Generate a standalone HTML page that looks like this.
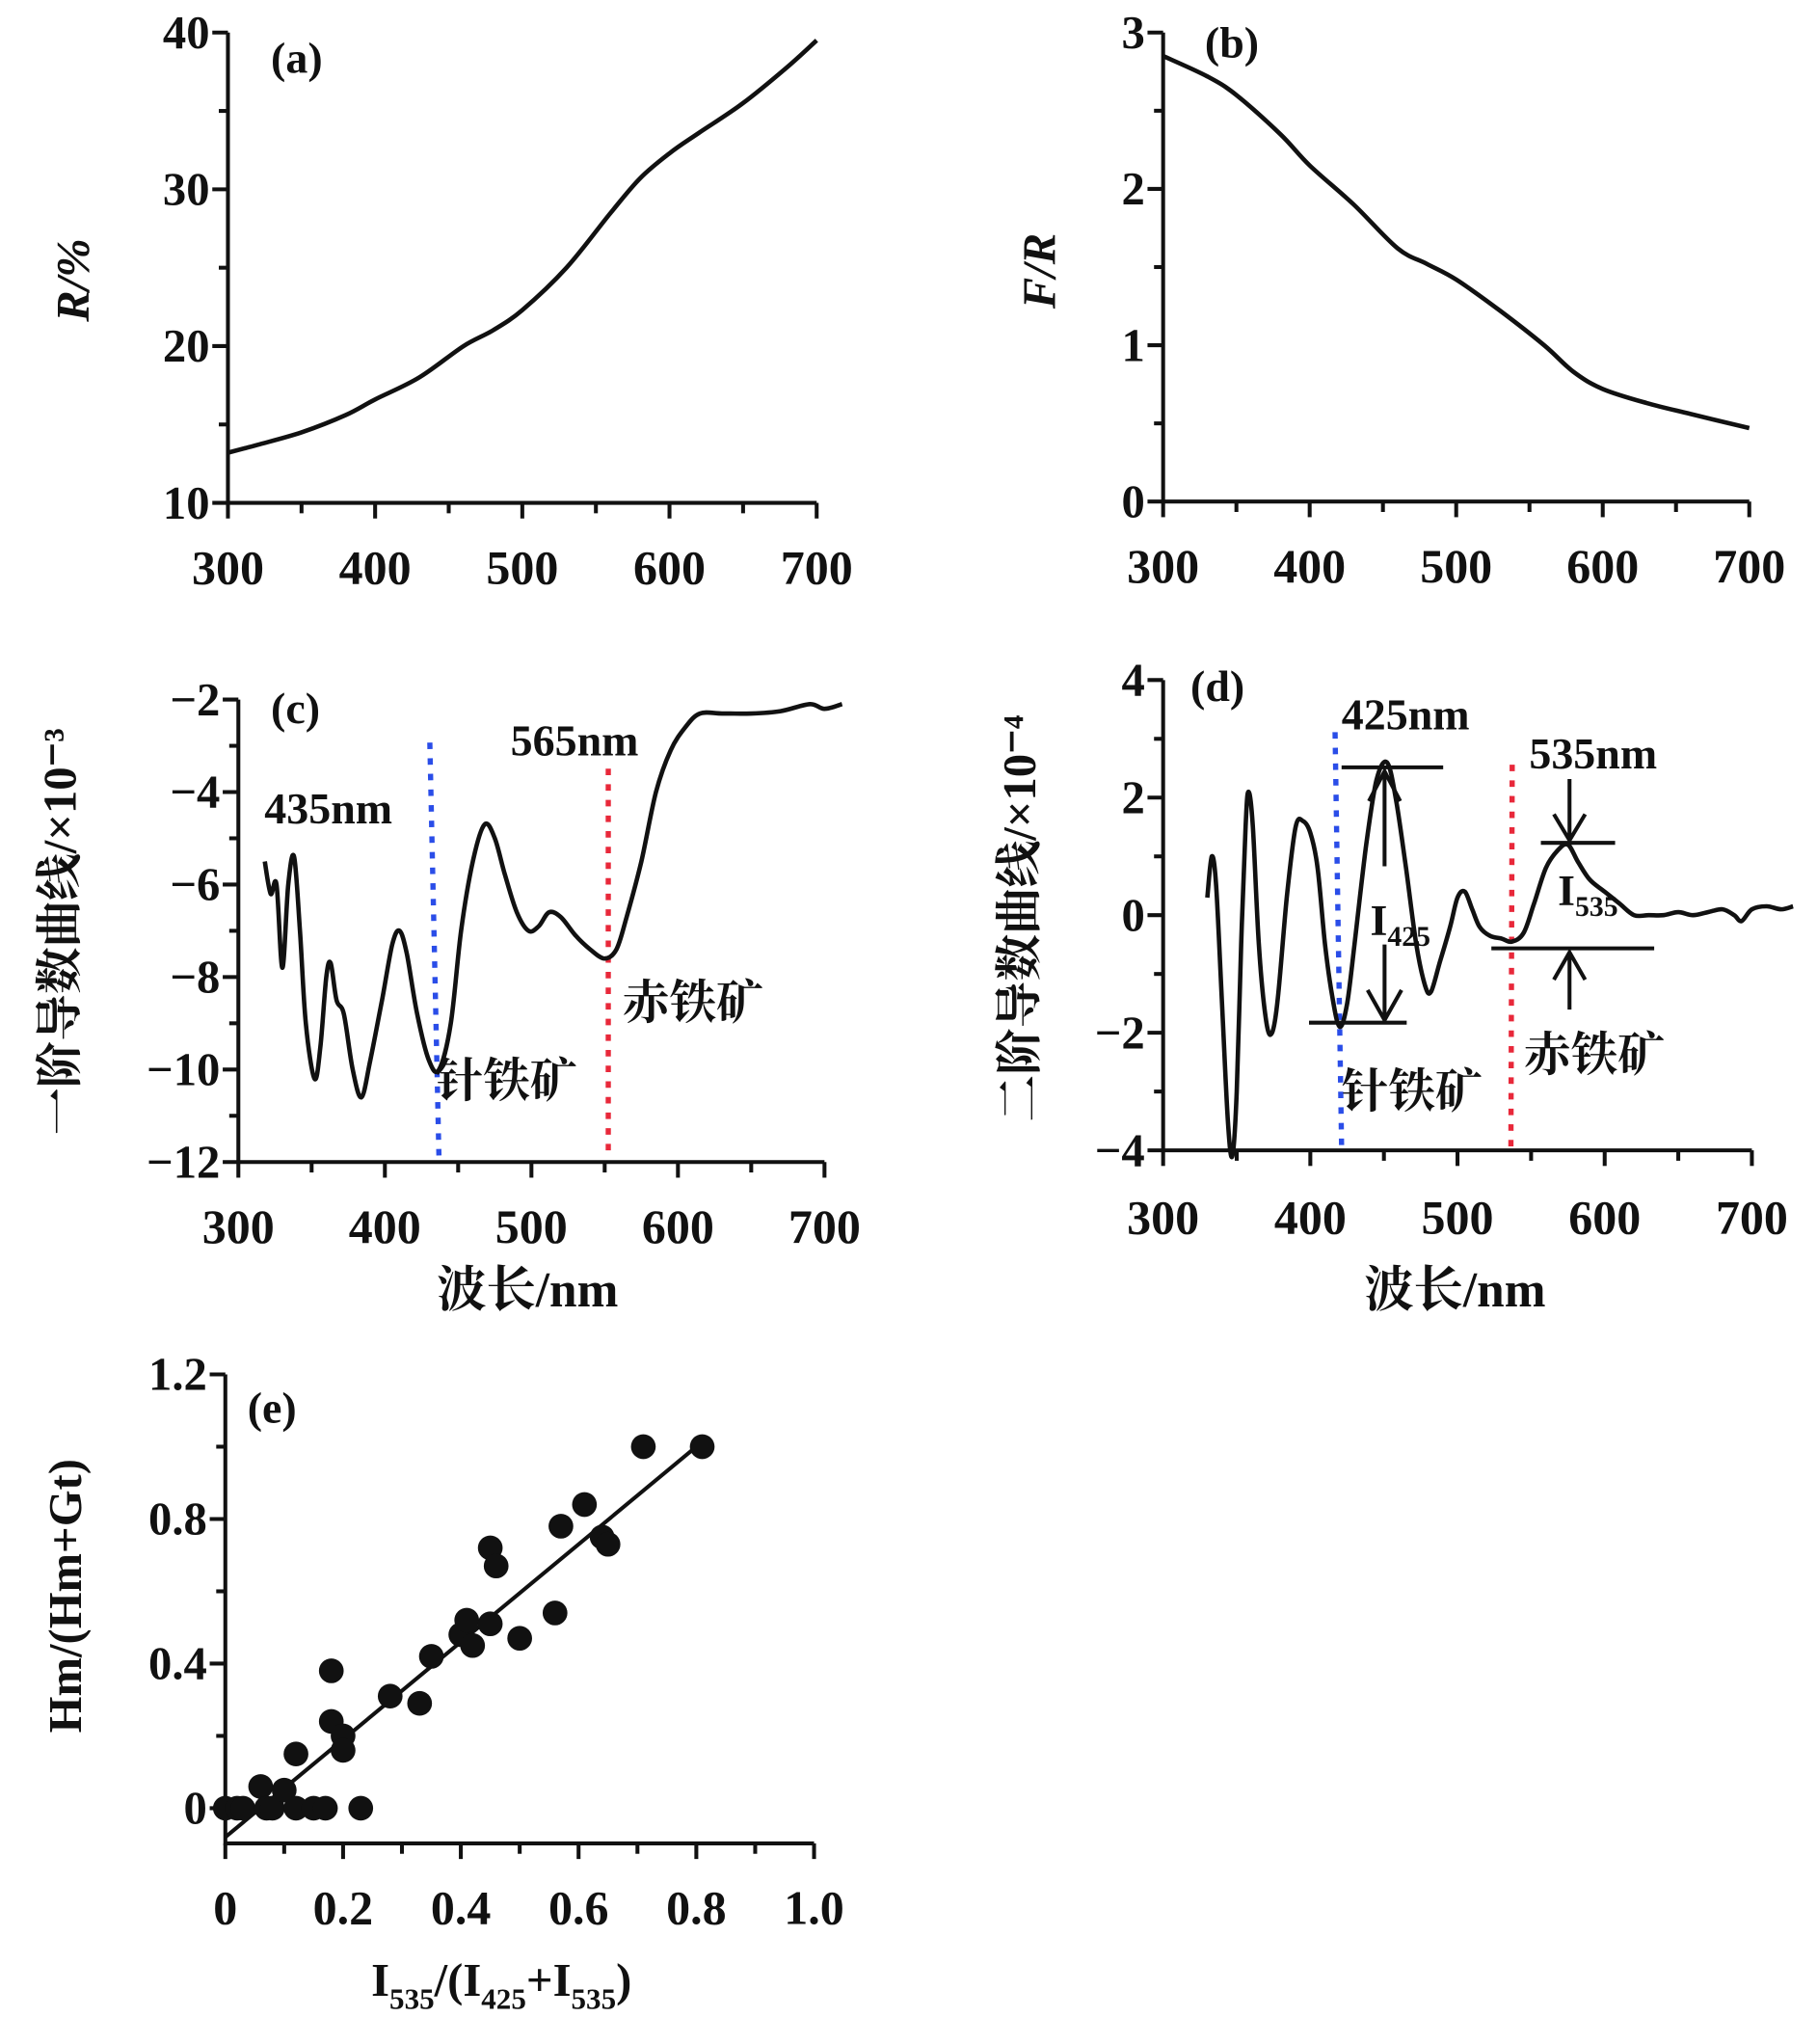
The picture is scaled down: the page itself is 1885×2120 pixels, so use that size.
<!DOCTYPE html>
<html><head><meta charset="utf-8"><style>
html,body{margin:0;padding:0;background:#fff;}
svg{display:block;}
text{font-family:"Liberation Serif","Noto Serif CJK SC",serif;font-weight:bold;fill:#111;}
.cjk{font-family:"Liberation Serif","Noto Serif CJK SC","Noto Sans CJK SC",serif;}
</style></head><body>
<svg id="fig" width="1885" height="2120" viewBox="0 0 1395 1569" preserveAspectRatio="none" xmlns="http://www.w3.org/2000/svg"></svg>
<script>
// ---- data ----
const aX=[300,320,350,380,400,430,460,480,500,530,560,580,600,620,650,680,700];
const aY=[13.2,13.7,14.5,15.6,16.6,18,20,21,22.3,25,28.5,30.7,32.3,33.6,35.5,37.8,39.5];
const bX=[300,330,350,380,400,430,460,480,500,530,560,580,600,630,660,700];
const bY=[2.85,2.72,2.6,2.35,2.15,1.9,1.62,1.52,1.42,1.22,1.0,0.83,0.72,0.63,0.56,0.47];
const cX=[318,322,326,330,334,338,342,346,352,356,360,363,367,372,378,384,390,398,405,410,415,422,430,437,445,452,460,468,475,482,490,498,505,512,520,530,540,550,558,565,575,585,595,605,615,630,650,670,690,700,712];
const cY=[-5.5,-6.2,-6.0,-7.8,-6.0,-5.4,-7,-9,-10.2,-9.5,-8,-7.7,-8.5,-8.8,-10,-10.6,-9.8,-8.5,-7.3,-7.0,-7.5,-8.8,-9.8,-10.0,-9,-7,-5.5,-4.7,-5,-5.8,-6.6,-7.0,-6.9,-6.6,-6.7,-7.1,-7.4,-7.6,-7.4,-6.7,-5.5,-4.0,-3.1,-2.6,-2.3,-2.3,-2.3,-2.25,-2.1,-2.2,-2.1];
const dX=[330,333,336,340,344,347,350,353,356,358,361,365,370,374,378,384,390,395,400,405,410,415,420,425,430,438,445,452,458,465,472,478,482,488,495,500,505,510,515,522,530,537,545,552,560,568,575,582,590,600,610,620,630,640,650,660,670,680,688,693,700,710,720,728];
const dY=[0.3,1.0,0.5,-1.5,-3.5,-4.1,-3,-0.5,1.5,2.1,1.5,-0.5,-1.8,-2.0,-1.4,0.3,1.5,1.6,1.4,0.8,-0.5,-1.4,-1.9,-1.5,-0.5,1.2,2.3,2.6,2.0,0.8,-0.5,-1.2,-1.3,-0.8,-0.2,0.3,0.4,0.1,-0.2,-0.35,-0.4,-0.45,-0.3,0.2,0.8,1.1,1.2,0.9,0.6,0.4,0.2,0.0,0.0,0.0,0.05,0.0,0.05,0.1,0.0,-0.1,0.1,0.15,0.1,0.15];
const eX=[0,0.02,0.03,0.06,0.07,0.08,0.1,0.12,0.12,0.15,0.17,0.18,0.18,0.2,0.2,0.23,0.28,0.33,0.35,0.4,0.41,0.42,0.45,0.46,0.45,0.5,0.56,0.57,0.61,0.64,0.65,0.71,0.81];
const eY=[0,0,0,0.06,0,0,0.05,0.15,0,0,0,0.24,0.38,0.2,0.16,0,0.31,0.29,0.42,0.48,0.52,0.45,0.72,0.67,0.51,0.47,0.54,0.78,0.84,0.75,0.73,1.0,1.0];
const fitX=[0,0.8];
const fitY=[-0.08,1.0];
const aTicks=[10,20,30,40], bTicks=[0,1,2,3], cTicks=[-12,-10,-8,-6,-4,-2], dTicks=[-4,-2,0,2,4];
const nmTicks=[300,400,500,600,700], eXTicks=[0,0.2,0.4,0.6,0.8,1.0], eYTicks=[0,0.4,0.8,1.2];
const eXLabels=["0","0.2","0.4","0.6","0.8","1.0"], eYLabels=["0","0.4","0.8","1.2"];

const NS="http://www.w3.org/2000/svg";
const svg=document.getElementById('fig');
function mk(tag,attrs,parent){const e=document.createElementNS(NS,tag);for(const k in attrs)e.setAttribute(k,attrs[k]);(parent||svg).appendChild(e);return e;}
function txt(s,x,y,size,anchor,parent){const t=mk('text',{x:x,y:y,'font-size':size,'text-anchor':anchor||'middle'},parent);t.textContent=s;return t;}
function scale(d0,d1,r0,r1){return v=>r0+(v-d0)*(r1-r0)/(d1-d0);}

function panel(name,o){
  const g=mk('g',{});
  
  
  const sx=scale(o.x0,o.x1,o.L,o.R), sy=scale(o.y0,o.y1,o.B,o.T);
  const ax=mk('path',{d:`M${o.L},${o.T}V${o.axB}H${o.R}`,stroke:'#111','stroke-width':3,fill:'none'},g);
  
  
  o.yt.forEach((v,i)=>{
    mk('line',{x1:o.L-12,x2:o.L,y1:sy(v),y2:sy(v),stroke:'#111','stroke-width':3},g);
    const t=txt(o.ylab?o.ylab[i]:String(v).replace('-','\u2212'),o.L-14,sy(v)+12,36,'end',g);
    
    
    if(i<o.yt.length-1){const m=(v+o.yt[i+1])/2;mk('line',{x1:o.L-7,x2:o.L,y1:sy(m),y2:sy(m),stroke:'#111','stroke-width':3},g);}
  });
  o.xt.forEach((v,i)=>{
    mk('line',{x1:sx(v),x2:sx(v),y1:o.axB,y2:o.axB+12,stroke:'#111','stroke-width':3},g);
    const t=txt(o.xlab?o.xlab[i]:String(v),sx(v),o.axB+o.xlOff,37,'middle',g);
    
    
    if(i<o.xt.length-1){const m=(v+o.xt[i+1])/2;mk('line',{x1:sx(m),x2:sx(m),y1:o.axB,y2:o.axB+8,stroke:'#111','stroke-width':3},g);}
  });
  return {g,sx,sy};
}
function curve(p,xs,ys,name){
  const P=xs.map((x,i)=>[p.sx(x),p.sy(ys[i])]);
  let d='M'+P[0][0].toFixed(1)+','+P[0][1].toFixed(1);
  for(let i=0;i<P.length-1;i++){
    const p0=P[Math.max(i-1,0)],p1=P[i],p2=P[i+1],p3=P[Math.min(i+2,P.length-1)];
    const c1=[p1[0]+(p2[0]-p0[0])/6,p1[1]+(p2[1]-p0[1])/6];
    const c2=[p2[0]-(p3[0]-p1[0])/6,p2[1]-(p3[1]-p1[1])/6];
    d+=`C${c1[0].toFixed(1)},${c1[1].toFixed(1)} ${c2[0].toFixed(1)},${c2[1].toFixed(1)} ${p2[0].toFixed(1)},${p2[1].toFixed(1)}`;
  }
  const e=mk('path',{d:d,stroke:'#111','stroke-width':3.4,fill:'none','stroke-linejoin':'round'},p.g);
  
  
}
function vlab(s,x,y,size,g,name){const t=txt(s,0,0,size,'middle',g);t.setAttribute('transform',`translate(${x},${y}) rotate(-90)`);t.setAttribute('class','cjk');return t;}
function label(s,x,y,size,g,name,anchor){const t=txt(s,x,y,size,anchor||'start',g);t.setAttribute('class','cjk');return t;}

// (a)
const pa=panel('panel-a',{x0:300,x1:700,y0:10,y1:40,L:175,R:627,T:25,B:386,axB:386,yt:aTicks,xt:nmTicks,xlOff:62});
curve(pa,aX,aY,'reflectance-curve');
label('(a)',208,56,34,pa.g,'panel-a-label');
const ra=vlab('R/%',68,215,36,pa.g,'y-axis-title');ra.setAttribute('font-style','italic');

// (b)
const pb=panel('panel-b',{x0:300,x1:700,y0:0,y1:3,L:893,R:1343,T:25,B:385,axB:385,yt:bTicks,xt:nmTicks,xlOff:62});
curve(pb,bX,bY,'kubelka-munk-curve');
label('(b)',925,44,34,pb.g,'panel-b-label');
const rb=vlab('F/R',810,208,36,pb.g,'y-axis-title');rb.setAttribute('font-style','italic');

// (c)
const pc=panel('panel-c',{x0:300,x1:700,y0:-12,y1:-2,L:183,R:633,T:537,B:892,axB:892,yt:cTicks,xt:nmTicks,xlOff:62});
const blueC=mk('line',{x1:330,y1:570,x2:337,y2:888,stroke:'#2a4de8','stroke-width':4,'stroke-dasharray':'5 7'},pc.g);

const redC=mk('line',{x1:467,y1:590,x2:467,y2:888,stroke:'#e8283a','stroke-width':4,'stroke-dasharray':'5 7'},pc.g);

curve(pc,cX,cY,'first-derivative-curve');
label('(c)',208,555,34,pc.g,'panel-c-label');
label('435nm',203,632,34,pc.g,'peak-label-435');
label('565nm',392,580,34,pc.g,'peak-label-565');
label('赤铁矿',478,782,36,pc.g,'hematite-label');
label('针铁矿',335,842,36,pc.g,'goethite-label');
vlab('一阶导数曲线/×10⁻³',58,715,36,pc.g,'y-axis-title');
label('波长/nm',405,1003,38,pc.g,'x-axis-title','middle');

// (d)
const pd=panel('panel-d',{x0:300,x1:700,y0:-4,y1:4,L:893,R:1345,T:522,B:883,axB:883,yt:dTicks,xt:nmTicks,xlOff:64});
const blueD=mk('line',{x1:1025,y1:562,x2:1030,y2:880,stroke:'#2a4de8','stroke-width':4,'stroke-dasharray':'5 7'},pd.g);

const redD=mk('line',{x1:1161,y1:587,x2:1160,y2:880,stroke:'#e8283a','stroke-width':4,'stroke-dasharray':'5 7'},pd.g);

curve(pd,dX,dY,'second-derivative-curve');
const ann=mk('path',{d:'M1030,589H1108M1005,785H1080M1063,592V665M1051,615L1063,592L1075,615M1063,725V783M1050,760L1063,783L1076,760M1183,647H1240M1145,728H1270M1205,598V645M1193,625L1205,645L1217,625M1205,775V731M1193,752L1205,731L1217,752',stroke:'#111','stroke-width':3,fill:'none'},pd.g);

const i425=mk('text',{x:1052,y:718,'font-size':34,'font-family':'Liberation Sans'},pd.g);i425.innerHTML='I<tspan font-size="22" dy="8">425</tspan>';

const i535=mk('text',{x:1196,y:695,'font-size':34,'font-family':'Liberation Sans'},pd.g);i535.innerHTML='I<tspan font-size="22" dy="8">535</tspan>';

label('(d)',914,538,34,pd.g,'panel-d-label');
label('425nm',1030,560,34,pd.g,'peak-label-425');
label('535nm',1174,590,34,pd.g,'peak-label-535');
label('赤铁矿',1170,822,36,pd.g,'hematite-label');
label('针铁矿',1030,850,36,pd.g,'goethite-label');
vlab('二阶导数曲线/×10⁻⁴',795,705,36,pd.g,'y-axis-title');
label('波长/nm',1117,1003,38,pd.g,'x-axis-title','middle');

// (e)
const pe=panel('panel-e',{x0:0,x1:1,y0:0,y1:1.2,L:173,R:625,T:1055,B:1388,axB:1415,yt:eYTicks,xt:eXTicks,xlab:eXLabels,ylab:eYLabels,xlOff:62});
const fit=mk('line',{x1:pe.sx(fitX[0]),y1:pe.sy(fitY[0]),x2:pe.sx(fitX[1]),y2:pe.sy(fitY[1]),stroke:'#111','stroke-width':3},pe.g);

eX.forEach((x,i)=>{
  const c=mk('circle',{cx:pe.sx(x),cy:pe.sy(eY[i]),r:9.5,fill:'#111'},pe.g);
  
  
});
label('(e)',190,1092,34,pe.g,'panel-e-label');
vlab('Hm/(Hm+Gt)',62,1225,36,pe.g,'y-axis-title');
const xe=mk('text',{x:385,y:1532,'font-size':36,'text-anchor':'middle'},pe.g);
xe.innerHTML='I<tspan font-size="23" dy="10">535</tspan><tspan dy="-10">/(I</tspan><tspan font-size="23" dy="10">425</tspan><tspan dy="-10">+I</tspan><tspan font-size="23" dy="10">535</tspan><tspan dy="-10">)</tspan>';

</script>
</body></html>
